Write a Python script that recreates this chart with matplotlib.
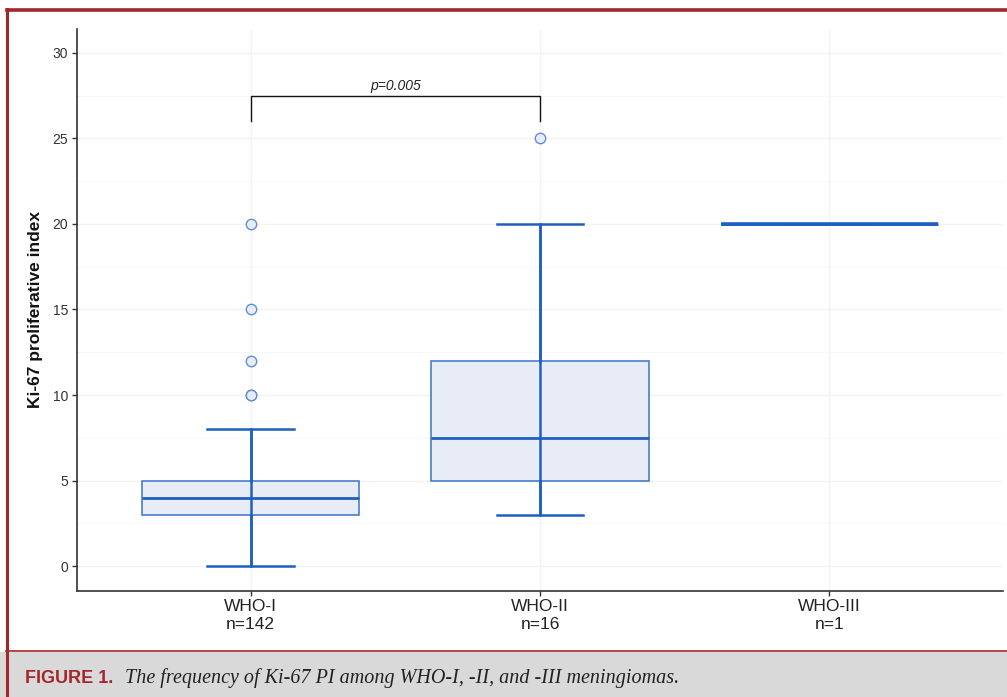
import matplotlib
matplotlib.use("Agg")
import matplotlib.pyplot as plt
from matplotlib.patches import Rectangle
from matplotlib.lines import Line2D

plt.rcParams["font.family"] = ["Liberation Sans", "DejaVu Sans"]

# ---- data ----
groups = ["WHO-I", "WHO-II", "WHO-III"]
counts = [142, 16, 1]
whislo = [0, 3, 20]
q1 = [3, 5, 20]
medians = [4, 7.5, 20]
q3 = [5, 12, 20]
whishi = [8, 20, 20]
fliers = [[10, 10, 12, 15, 20], [25], []]
yticks = [0, 5, 10, 15, 20, 25, 30]
p_text = "p=0.005"
bracket_pair = (1, 2)
bracket_top = 27.5
bracket_leg = 26.0
caption_label = "FIGURE 1."
caption_text = "The frequency of Ki-67 PI among WHO-I, -II, and -III meningiomas."
ylabel = "Ki-67 proliferative index"

EDGE = "#1f5fbf"
BOXEDGE = "#3a72c8"
FILL = "#e8ecf7"
FLIER = "#5f8fd8"
RED = "#a3262b"

fig = plt.figure(figsize=(10.07, 6.97), dpi=100)

ax = fig.add_axes([77/1007, 1-591/697, (1003-77)/1007, (591-29)/697])
positions = list(range(1, len(groups) + 1))
stats = []
for i in range(len(groups)):
    stats.append(dict(med=medians[i], q1=q1[i], q3=q3[i], whislo=whislo[i],
                      whishi=whishi[i], fliers=fliers[i], label=groups[i]))

ax.bxp(stats, positions=positions, widths=0.75, patch_artist=True,
       showfliers=True, capwidths=0.3,
       boxprops=dict(facecolor=FILL, edgecolor=BOXEDGE, linewidth=1.1),
       medianprops=dict(color=EDGE, linewidth=2.0),
       whiskerprops=dict(color=EDGE, linewidth=1.8),
       capprops=dict(color=EDGE, linewidth=1.8),
       flierprops=dict(marker="o", markersize=7.5, markerfacecolor=FILL,
                       markeredgecolor=FLIER, markeredgewidth=1.0, linestyle="none"))
# whisker line passing through the box
for i, p in enumerate(positions):
    if whishi[i] > whislo[i]:
        ax.vlines(p, whislo[i], whishi[i], color=EDGE, linewidth=1.8, zorder=3)
    else:
        ax.hlines(medians[i], p - 0.375, p + 0.375, color=EDGE, linewidth=2.6, zorder=3)

ax.set_yticks(yticks)
ax.set_yticks([y + 2.5 for y in yticks[:-1]], minor=True)
ax.set_xticks(positions)
ax.set_xticklabels([f"{g}\nn={n}" for g, n in zip(groups, counts)],
                   fontsize=12.5, color="#222222", linespacing=1.25)
ax.set_xlim(0.4, 3.6)
ax.set_ylim(-1.46, 31.4)
ax.tick_params(axis="y", labelsize=10, labelcolor="#333333", length=3.5,
               width=1.0, color="#333333", pad=3)
ax.tick_params(axis="x", length=3.5, width=1.0, color="#333333", pad=2)
ax.tick_params(which="minor", length=0)
ax.grid(True, which="major", color="#f3f3f3", linewidth=1.0)
ax.grid(True, which="minor", axis="y", color="#f7f7f7", linewidth=0.8)
ax.set_axisbelow(True)
for s in ["top", "right"]:
    ax.spines[s].set_visible(False)
for s in ["left", "bottom"]:
    ax.spines[s].set_color("#333333")
    ax.spines[s].set_linewidth(1.2)
ax.set_ylabel(ylabel, fontsize=12.5, fontweight="bold", color="#111111", labelpad=7)

# significance bracket
a, b = bracket_pair
ax.plot([a, a, b, b], [bracket_leg, bracket_top, bracket_top, bracket_leg],
        color="#111111", linewidth=1.0, zorder=4)
ax.text((a + b) / 2, bracket_top + 0.15, p_text, ha="center", va="bottom",
        fontsize=10, style="italic", color="#222222")

# frame and caption band
fig.patches.append(Rectangle((0, 0), 1, 45/697, transform=fig.transFigure,
                             facecolor="#d9d9d9", edgecolor="none", zorder=0))
fig.lines.append(Line2D([6/1007, 1], [1-651/697, 1-651/697], transform=fig.transFigure,
                        color=RED, linewidth=1.2))
fig.lines.append(Line2D([6.5/1007, 1], [1-9.5/697, 1-9.5/697], transform=fig.transFigure,
                        color=RED, linewidth=2.6))
fig.lines.append(Line2D([7/1007, 7/1007], [0, 1-8.5/697], transform=fig.transFigure,
                        color=RED, linewidth=2.2))
fig.text(25/1007, 1-683/697, caption_label, fontsize=13, fontweight="bold", color=RED,
         family=["Liberation Sans", "DejaVu Sans"], va="baseline")
fig.text(125/1007, 1-683/697, caption_text, fontsize=14.5, style="italic", color="#222222",
         family=["Liberation Serif", "DejaVu Serif"], va="baseline")

fig.savefig("out.png", dpi=100)
